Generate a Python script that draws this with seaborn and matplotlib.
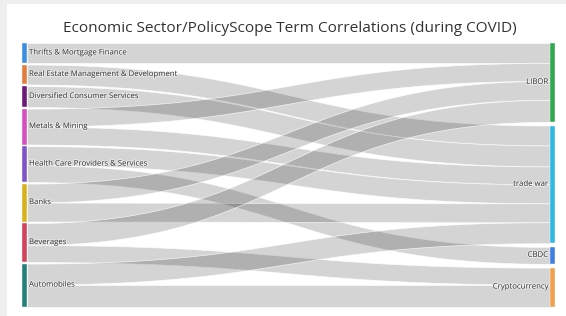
import numpy as np
import pandas as pd
import matplotlib
matplotlib.use("Agg")
import matplotlib.pyplot as plt
import matplotlib.patheffects as pe
import seaborn as sns

# nodes: sectors on the left, policy terms on the right
sectors = ["Thrifts & Mortgage Finance", "Real Estate Management & Development",
           "Diversified Consumer Services", "Metals & Mining",
           "Health Care Providers & Services", "Banks", "Beverages", "Automobiles"]
terms = ["LIBOR", "trade war", "CBDC", "Cryptocurrency"]

sector_colors = ["#3b8ee0", "#e27d3c", "#6a1b78", "#d64fbf",
                 "#7d55c7", "#d8b21c", "#d1435b", "#23807b"]
term_colors = ["#2fa84f", "#2fb9e3", "#3f7fe0", "#efa14f"]

# links (sector -> term, weight)
link_source = ["Thrifts & Mortgage Finance", "Real Estate Management & Development",
               "Diversified Consumer Services", "Metals & Mining", "Metals & Mining",
               "Health Care Providers & Services", "Health Care Providers & Services",
               "Banks", "Banks", "Beverages", "Beverages", "Automobiles", "Automobiles"]
link_target = ["LIBOR", "trade war", "trade war", "LIBOR", "trade war",
               "trade war", "CBDC", "LIBOR", "trade war", "LIBOR", "Cryptocurrency",
               "trade war", "Cryptocurrency"]
link_value = [20, 20, 21, 18, 18, 19, 17, 19, 19, 22, 17, 21, 22]

links = pd.DataFrame({"source": link_source, "target": link_target, "value": link_value})

W, H = 566, 316
top, bottom = 43, 306.5
left_x, right_x, node_w = 22, 550, 5
left_pad = 1.6

sns.set_theme(style="white")
plt.rcParams["font.family"] = ["Open Sans", "DejaVu Sans"]

fig = plt.figure(figsize=(W / 100, H / 100), dpi=100, facecolor="#efefef")
ax = fig.add_axes([7 / W, 0, (W - 7) / W, (H - 4) / H])
ax.set_xlim(7, W)
ax.set_ylim(H, 4)
ax.set_facecolor("white")
ax.axis("off")
ax.add_patch(plt.Rectangle((7, 4), W - 7, H - 4, color="white", zorder=0))

# node layout from the totals
left_tot = links.groupby("source")["value"].sum().reindex(sectors)
right_tot = links.groupby("target")["value"].sum().reindex(terms)
k = (bottom - top - left_pad * (len(sectors) - 1)) / left_tot.sum()


def stack(totals, pad):
    y = top
    pos = {}
    for name, v in totals.items():
        pos[name] = [y, y + v * k]
        y += v * k + pad
    return pos


left_pos = stack(left_tot, left_pad)
right_pad = (bottom - top - right_tot.sum() * k) / (len(terms) - 1)
right_pos = stack(right_tot, right_pad)

# order of links at each end
links["s_rank"] = links["source"].map(sectors.index)
links["t_rank"] = links["target"].map(terms.index)
src_off = {n: left_pos[n][0] for n in sectors}
tgt_off = {n: right_pos[n][0] for n in terms}
y0s, y1s = {}, {}
for i, r in links.sort_values(["s_rank", "t_rank"]).iterrows():
    y0s[i] = src_off[r.source]
    src_off[r.source] += r.value * k
for i, r in links.sort_values(["t_rank", "s_rank"]).iterrows():
    y1s[i] = tgt_off[r.target]
    tgt_off[r.target] += r.value * k

t = np.linspace(0, 1, 120)
xa, xb = left_x + node_w, right_x
xm = (xa + xb) / 2
xs = (1 - t) ** 3 * xa + 3 * (1 - t) ** 2 * t * xm + 3 * (1 - t) * t ** 2 * xm + t ** 3 * xb
s = 3 * t ** 2 - 2 * t ** 3
for i, r in links.iterrows():
    h = r.value * k
    y_top = y0s[i] + (y1s[i] - y0s[i]) * s
    ax.fill_between(xs, y_top, y_top + h, facecolor=(0, 0, 0, 0.17),
                    edgecolor=(1, 1, 1, 0.8), linewidth=0.5, zorder=1)

# nodes
for name, c in zip(sectors, sector_colors):
    a, b = left_pos[name]
    ax.add_patch(plt.Rectangle((left_x, a), node_w, b - a, facecolor=c,
                               edgecolor="white", linewidth=0.3, zorder=2))
    ax.text(left_x + node_w + 2, (a + b) / 2, name, fontsize=5.6, color="#444444",
            va="center", ha="left", zorder=3,
            path_effects=[pe.withStroke(linewidth=1.2, foreground=(1, 1, 1, 0.6))])
for name, c in zip(terms, term_colors):
    a, b = right_pos[name]
    ax.add_patch(plt.Rectangle((right_x, a), node_w, b - a, facecolor=c,
                               edgecolor="white", linewidth=0.3, zorder=2))
    ax.text(right_x - 2, (a + b) / 2, name, fontsize=5.6, color="#444444",
            va="center", ha="right", zorder=3,
            path_effects=[pe.withStroke(linewidth=1.2, foreground=(1, 1, 1, 0.6))])

ax.text(290, 29, "Economic Sector/PolicyScope Term Correlations (during COVID)",
        fontsize=11.1, color="#333333", ha="center", va="center")

fig.savefig("out.png", dpi=100, facecolor=fig.get_facecolor())
